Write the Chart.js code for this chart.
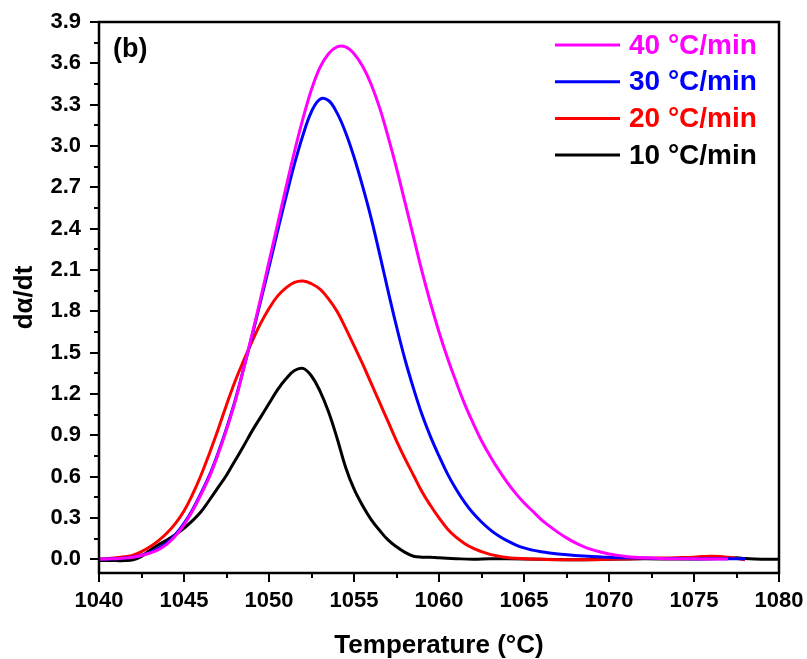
<!DOCTYPE html>
<html>
<head>
<meta charset="utf-8">
<title>dα/dt</title>
<script src="https://cdn.jsdelivr.net/npm/chart.js@4.4.1/dist/chart.umd.min.js"></script>
<style>
  html, body { margin: 0; padding: 0; background: #fff; }
  canvas { display: block; }
</style>
</head>
<body>
<canvas id="rate-chart" width="807" height="659"></canvas>
<script>
!(function () {
  "use strict";

  // heating rate series: temperature (°C) and dα/dt
  var temp40 = [1040, 1040.5, 1041, 1041.5, 1042, 1042.5, 1043, 1043.5, 1044, 1044.5, 1045, 1045.5, 1046, 1046.5, 1047, 1047.5, 1048, 1048.5, 1049, 1049.5, 1050, 1050.5, 1051, 1051.5, 1052, 1052.5, 1053, 1053.5, 1054, 1054.5, 1055, 1055.5, 1056, 1056.5, 1057, 1057.5, 1058, 1058.5, 1059, 1059.5, 1060, 1060.5, 1061, 1061.5, 1062, 1062.5, 1063, 1063.5, 1064, 1064.5, 1065, 1065.5, 1066, 1066.5, 1067, 1067.5, 1068, 1068.5, 1069, 1069.5, 1070, 1070.5, 1071, 1071.5, 1072, 1073, 1074, 1075, 1076, 1077];
  var rate40 = [0, 0.002, 0.004, 0.008, 0.015, 0.027, 0.045, 0.07, 0.11, 0.17, 0.25, 0.35, 0.47, 0.60, 0.76, 0.94, 1.14, 1.38, 1.63, 1.89, 2.16, 2.43, 2.70, 2.96, 3.20, 3.41, 3.57, 3.67, 3.72, 3.72, 3.67, 3.58, 3.45, 3.28, 3.07, 2.84, 2.59, 2.34, 2.09, 1.86, 1.65, 1.46, 1.29, 1.13, 0.99, 0.86, 0.75, 0.65, 0.56, 0.48, 0.41, 0.35, 0.29, 0.24, 0.195, 0.155, 0.12, 0.092, 0.07, 0.052, 0.038, 0.028, 0.02, 0.014, 0.01, 0.006, 0.004, 0.003, 0.002, 0.002];

  var temp30 = [1040, 1040.5, 1041, 1041.5, 1042, 1042.5, 1043, 1043.5, 1044, 1044.5, 1045, 1045.5, 1046, 1046.5, 1047, 1047.5, 1048, 1048.5, 1049, 1049.5, 1050, 1050.5, 1051, 1051.5, 1052, 1052.5, 1053, 1053.5, 1054, 1054.5, 1055, 1055.5, 1056, 1056.5, 1057, 1057.5, 1058, 1058.5, 1059, 1059.5, 1060, 1060.5, 1061, 1061.5, 1062, 1062.5, 1063, 1063.5, 1064, 1064.5, 1065, 1065.5, 1066, 1066.5, 1067, 1068, 1069, 1070, 1071, 1072, 1073, 1075, 1078];
  var rate30 = [0, 0.002, 0.004, 0.009, 0.016, 0.03, 0.05, 0.08, 0.12, 0.18, 0.26, 0.36, 0.48, 0.61, 0.77, 0.95, 1.15, 1.38, 1.62, 1.87, 2.12, 2.38, 2.63, 2.87, 3.08, 3.25, 3.34, 3.33, 3.24, 3.10, 2.92, 2.71, 2.48, 2.22, 1.95, 1.69, 1.45, 1.24, 1.05, 0.89, 0.75, 0.62, 0.51, 0.415, 0.335, 0.27, 0.215, 0.17, 0.135, 0.105, 0.082, 0.066, 0.054, 0.045, 0.038, 0.027, 0.019, 0.014, 0.01, 0.008, 0.006, 0.004, 0.004];

  var temp20 = [1040, 1040.5, 1041, 1041.5, 1042, 1042.5, 1043, 1043.5, 1044, 1044.5, 1045, 1045.5, 1046, 1046.5, 1047, 1047.5, 1048, 1048.5, 1049, 1049.5, 1050, 1050.5, 1051, 1051.5, 1052, 1052.5, 1053, 1053.5, 1054, 1054.5, 1055, 1055.5, 1056, 1056.5, 1057, 1057.5, 1058, 1058.5, 1059, 1059.5, 1060, 1060.5, 1061, 1061.5, 1062, 1062.5, 1063, 1063.5, 1064, 1064.5, 1065, 1066, 1067, 1068, 1069, 1070, 1071, 1072, 1073, 1074, 1075, 1075.5, 1076, 1076.5, 1077, 1077.5, 1078];
  var rate20 = [0, 0.005, 0.01, 0.018, 0.03, 0.055, 0.09, 0.135, 0.19, 0.26, 0.35, 0.47, 0.61, 0.77, 0.94, 1.12, 1.29, 1.44, 1.58, 1.71, 1.82, 1.91, 1.97, 2.01, 2.02, 2.00, 1.96, 1.89, 1.80, 1.68, 1.55, 1.42, 1.28, 1.14, 1.00, 0.86, 0.73, 0.61, 0.49, 0.39, 0.30, 0.22, 0.16, 0.115, 0.08, 0.055, 0.035, 0.022, 0.013, 0.007, 0.003, 0, -0.003, -0.004, -0.003, 0, 0.002, 0.005, 0.008, 0.011, 0.015, 0.019, 0.022, 0.02, 0.014, 0.006, -0.004];

  var temp10 = [1040, 1041, 1041.5, 1042, 1042.5, 1043, 1043.5, 1044, 1044.5, 1045, 1045.5, 1046, 1046.5, 1047, 1047.5, 1048, 1048.5, 1049, 1049.5, 1050, 1050.5, 1051, 1051.5, 1052, 1052.5, 1053, 1053.5, 1054, 1054.5, 1055, 1055.5, 1056, 1056.5, 1057, 1057.5, 1058, 1058.5, 1059, 1059.5, 1060, 1061, 1062, 1063, 1064, 1066, 1068, 1070, 1072, 1074, 1076, 1077.5, 1078, 1079, 1080];
  var rate10 = [-0.01, -0.01, -0.01, -0.005, 0.02, 0.065, 0.105, 0.14, 0.18, 0.225, 0.28, 0.345, 0.43, 0.52, 0.61, 0.715, 0.82, 0.93, 1.03, 1.13, 1.23, 1.31, 1.37, 1.385, 1.33, 1.22, 1.07, 0.88, 0.67, 0.51, 0.39, 0.29, 0.21, 0.14, 0.09, 0.05, 0.022, 0.015, 0.015, 0.01, 0.004, 0, 0.003, 0.003, 0, -0.003, 0, 0.003, 0.002, 0.004, 0.01, 0.005, 0, 0];

  var seriesLabels = ["40 °C/min", "30 °C/min", "20 °C/min", "10 °C/min"];
  var seriesColors = ["#ff00ff", "#0000ff", "#ff0000", "#000000"];

  var xTicks = [1040, 1045, 1050, 1055, 1060, 1065, 1070, 1075, 1080];
  var yTicks = [0, 0.3, 0.6, 0.9, 1.2, 1.5, 1.8, 2.1, 2.4, 2.7, 3.0, 3.3, 3.6, 3.9];

  var FONT = "'Liberation Sans', Arial, Helvetica, sans-serif";

  function toPoints(xs, ys) {
    var pts = [];
    for (var i = 0; i < xs.length; i++) pts.push({ x: xs[i], y: ys[i] });
    return pts;
  }

  var allTemps = [temp40, temp30, temp20, temp10];
  var allRates = [rate40, rate30, rate20, rate10];
  var datasets = [];
  for (var i = 0; i < seriesLabels.length; i++) {
    datasets.push({
      label: seriesLabels[i],
      data: toPoints(allTemps[i], allRates[i]),
      borderColor: seriesColors[i],
      borderWidth: 3,
      pointRadius: 0,
      fill: false,
      tension: 0.4
    });
  }

  // frame, outward major/minor ticks, legend and panel tag
  var framePlugin = {
    id: "frame",
    afterDraw: function (chart) {
      var ctx = chart.ctx, a = chart.chartArea;
      var xs = chart.scales.x, ys = chart.scales.y;
      ctx.save();
      ctx.strokeStyle = "#000";
      ctx.lineWidth = 2;
      ctx.lineCap = "butt";
      ctx.beginPath();
      var k, px, py;
      for (k = 0; k < xTicks.length; k++) {
        px = Math.round(xs.getPixelForValue(xTicks[k]));
        ctx.moveTo(px, a.bottom); ctx.lineTo(px, a.bottom + 9);
        if (k < xTicks.length - 1) {
          px = Math.round(xs.getPixelForValue((xTicks[k] + xTicks[k + 1]) / 2));
          ctx.moveTo(px, a.bottom); ctx.lineTo(px, a.bottom + 5);
        }
      }
      for (k = 0; k < yTicks.length; k++) {
        py = Math.round(ys.getPixelForValue(yTicks[k]));
        ctx.moveTo(a.left, py); ctx.lineTo(a.left - 9, py);
        if (k < yTicks.length - 1) {
          py = Math.round(ys.getPixelForValue((yTicks[k] + yTicks[k + 1]) / 2));
          ctx.moveTo(a.left, py); ctx.lineTo(a.left - 5, py);
        }
      }
      ctx.stroke();

      ctx.lineWidth = 2.5;
      ctx.strokeRect(a.left, a.top, a.right - a.left, a.bottom - a.top);

      // legend
      ctx.font = "bold 28px " + FONT;
      ctx.textBaseline = "middle";
      ctx.textAlign = "left";
      var lx = a.right - 224, ly = a.top + 23;
      chart.data.datasets.forEach(function (ds, j) {
        var y = ly + j * 36.7;
        ctx.strokeStyle = ds.borderColor;
        ctx.lineWidth = 3;
        ctx.beginPath();
        ctx.moveTo(lx, y); ctx.lineTo(lx + 65, y);
        ctx.stroke();
        ctx.fillStyle = ds.borderColor;
        ctx.fillText(ds.label, lx + 74, y + 1);
      });

      ctx.fillStyle = "#000";
      ctx.font = "bold 27px " + FONT;
      ctx.fillText("(b)", a.left + 14, a.top + 28);
      ctx.restore();
    }
  };

  var canvas = document.getElementById("rate-chart").getContext("2d");
  new Chart(canvas, {
    type: "line",
    data: { datasets: datasets },
    plugins: [framePlugin],
    options: {
      responsive: false,
      animation: false,
      layout: { padding: { left: 0, right: 28, top: 22, bottom: 0 } },
      plugins: {
        legend: { display: false },
        tooltip: { enabled: false }
      },
      scales: {
        x: {
          type: "linear",
          min: 1040,
          max: 1080,
          grid: { display: false, drawTicks: false },
          border: { display: false },
          afterBuildTicks: function (scale) {
            scale.ticks = xTicks.map(function (v) { return { value: v }; });
          },
          afterFit: function (scale) {
            scale.height = 86;
            scale.paddingLeft = 0;
            scale.paddingRight = 0;
          },
          ticks: {
            color: "#000",
            padding: 15,
            maxRotation: 0,
            font: { family: FONT, size: 22, weight: "bold" },
            callback: function (v) { return String(v); }
          },
          title: {
            display: true,
            text: "Temperature (°C)",
            color: "#000",
            padding: { top: 0, bottom: 0 },
            font: { family: FONT, size: 26, weight: "bold", lineHeight: 1 }
          }
        },
        y: {
          type: "linear",
          min: -0.1,
          max: 3.9,
          grid: { display: false, drawTicks: false },
          border: { display: false },
          afterBuildTicks: function (scale) {
            scale.ticks = yTicks.map(function (v) { return { value: v }; });
          },
          afterFit: function (scale) {
            scale.width = 99;
            scale.paddingTop = 0;
            scale.paddingBottom = 0;
          },
          ticks: {
            color: "#000",
            padding: 18,
            font: { family: FONT, size: 22, weight: "bold" },
            callback: function (v) { return Number(v).toFixed(1); }
          },
          title: {
            display: true,
            text: "dα/dt",
            color: "#000",
            padding: { top: 12, bottom: 0 },
            font: { family: FONT, size: 26, weight: "bold", lineHeight: 1 }
          }
        }
      }
    }
  });
})();
</script>
</body>
</html>
